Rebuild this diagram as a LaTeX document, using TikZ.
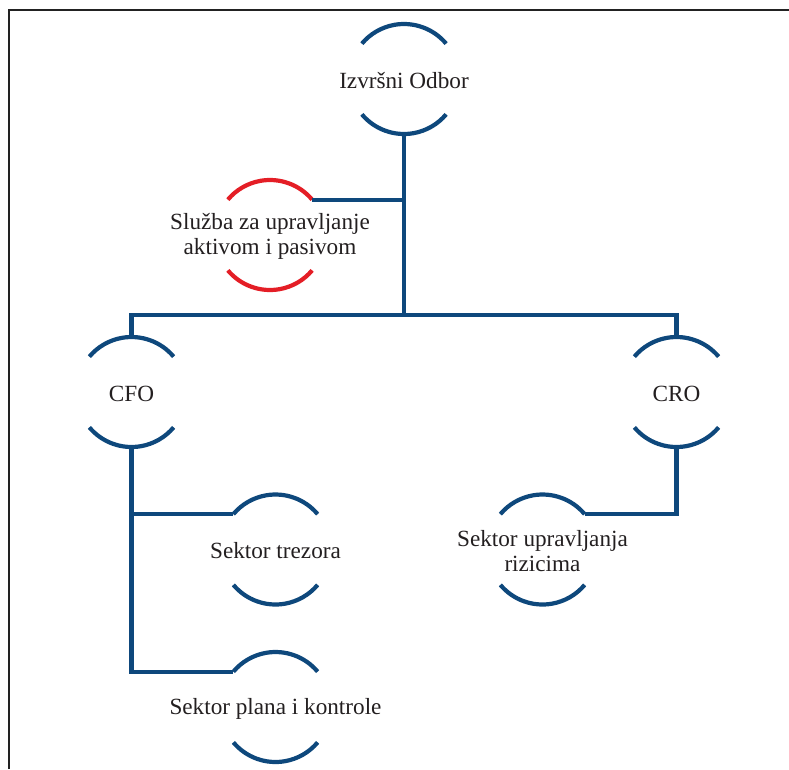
\documentclass[tikz,border=0pt]{standalone}
\usepackage{fontspec}
\setmainfont{Liberation Serif}
\definecolor{navy}{RGB}{14,72,124}
\definecolor{alarm}{RGB}{228,30,38}
\definecolor{ink}{RGB}{35,31,32}
\definecolor{framegray}{RGB}{34,34,34}

% top and bottom arcs of an organisational unit
\newcommand\ringarcs[2]{%
  \draw[line width=4.2pt,draw=#2]
    (#1.40) arc[start angle=40,end angle=140,radius=55pt]
    (#1.220) arc[start angle=220,end angle=320,radius=55pt];}

\begin{document}
\begin{tikzpicture}[x=1pt,y=1pt,
  unit/.style={circle,minimum size=110pt,inner sep=0pt,outer sep=0pt},
  unittext/.style={align=center,text=ink,inner sep=0pt,
    font=\fontsize{23.2}{24.5}\selectfont},
  link/.style={draw=navy,line width=4.2pt}]

\useasboundingbox (0,0) rectangle (789,-769);

% page frame (top and left edges)
\draw[framegray,line width=2pt] (8.5,-769) -- (8.5,-10) -- (789,-10);

% units
\node[unit] (izv) at (404,-79) {};
\node[unittext] (izvt) at ([yshift=-1.5pt]izv.center) {Izvršni Odbor};

\node[unit] (slu) at (270,-235) {};
\node[unittext] (slut) at ([yshift=-1.5pt]slu.center) {Služba za upravljanje\\aktivom i pasivom};

\node[unit] (cfo) at (131.5,-392) {};
\node[unittext] (cfot) at ([yshift=-1.5pt]cfo.center) {CFO};

\node[unit] (cro) at (676.5,-392) {};
\node[unittext] (crot) at ([yshift=-1.5pt]cro.center) {CRO};

\node[unit] (trz) at (275.5,-549.5) {};
\node[unittext] (trzt) at ([yshift=-1.5pt]trz.center) {Sektor trezora};

\node[unit] (pla) at (275.5,-707) {};
\node[unittext] (plat) at ([yshift=-1.5pt]pla.center) {Sektor plana i kontrole};

\node[unit] (sur) at (542.5,-549.5) {};
\node[unittext] (surt) at ([yshift=-1.5pt]sur.center) {Sektor upravljanja\\rizicima};

\ringarcs{izv}{navy}
\ringarcs{slu}{alarm}
\ringarcs{cfo}{navy}
\ringarcs{cro}{navy}
\ringarcs{trz}{navy}
\ringarcs{pla}{navy}
\ringarcs{sur}{navy}

% connectors
\coordinate (bar) at (404,-315);
\draw[link] (izv.south) -- (bar);
\draw[link] (slu.40) -- (slu.40 -| izv.south);
\draw[link] (cfo.north) |- (bar) -| (cro.north);
\draw[link] (cro.south) |- (sur.40);
\draw[link] (cfo.south) |- (trz.140);
\draw[link] (cfo.south) |- (pla.140);
\end{tikzpicture}
\end{document}
